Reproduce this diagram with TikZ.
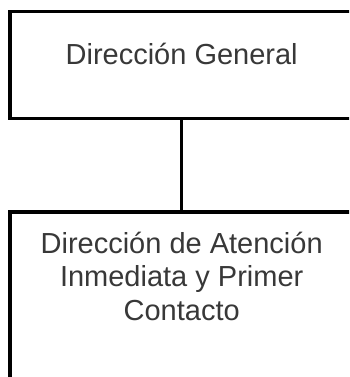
\documentclass[tikz,border=0pt]{standalone}
\usepackage{fontspec}
\setmainfont{Liberation Sans}
\usetikzlibrary{positioning}

\tikzset{
  unitbox/.style={draw, line width=3.5pt, rectangle, inner sep=0pt, outer sep=0pt,
    minimum width=343.4pt, anchor=north},
  unittext/.style={font=\fontsize{29}{33.3}\selectfont, align=center,
    text=black!78, inner sep=0pt, anchor=north}
}

\begin{document}
\begin{tikzpicture}[x=1pt,y=1pt]
\useasboundingbox (0,-377) rectangle (349,0);
\clip (0,-377) rectangle (349,0);

\node [unitbox, minimum height=107pt] (dg) at (181.7,-11.7) {};
\node [unitbox, minimum height=200pt] (dai) at (181.7,-212) {};

\node [unittext, below=31.5pt of dg.north] (dgtext) {Dirección General};
\node [unittext, below=20pt of dai.north] (daitext) {Dirección de Atención\\Inmediata y Primer\\Contacto};

\draw [line width=3.5pt] (dg.south) -- (dai.north);

\end{tikzpicture}
\end{document}
